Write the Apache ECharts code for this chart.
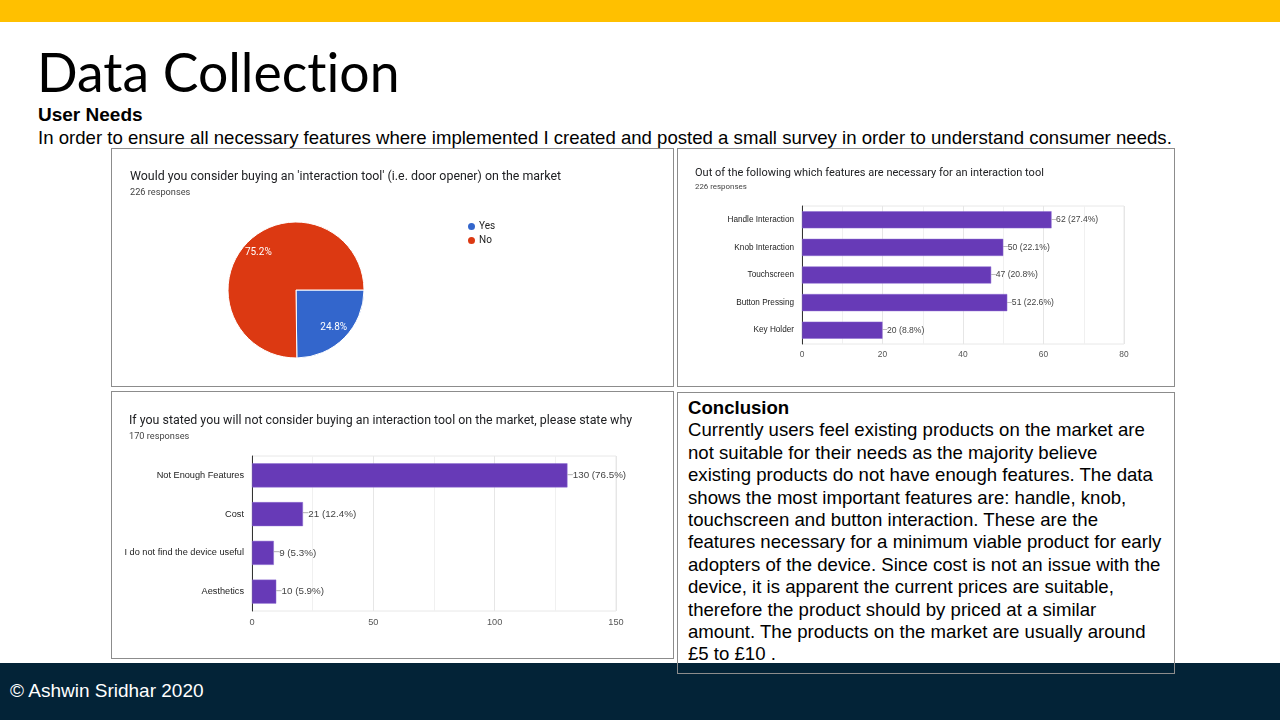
<!DOCTYPE html>
<html>
<head>
<meta charset="utf-8">
<title>Data Collection</title>
<script src="https://cdn.jsdelivr.net/npm/echarts@6/dist/echarts.min.js"></script>
<style>
  html, body {
    margin: 0;
    padding: 0;
    width: 1280px;
    height: 720px;
    overflow: hidden;
    background: #fff;
    position: relative;
    font-family: 'Liberation Sans', Arial, sans-serif;
  }
  .top-bar {
    position: absolute; left: 0; top: 0; width: 1280px; height: 22px;
    background: #ffc000;
  }
  .slide-title {
    position: absolute; left: 37px; top: 41px;
    font-family: Lato, 'Open Sans', sans-serif;
    font-variant-ligatures: none;
    font-size: 53.5px; line-height: 60px; color: #000;
    white-space: nowrap;
  }
  .sub-head {
    position: absolute; left: 38px; top: 104px;
    font-weight: bold; font-size: 19px; line-height: 22px; color: #000;
  }
  .intro {
    position: absolute; left: 38px; top: 127px;
    font-size: 18.6px; line-height: 22px; color: #000; white-space: nowrap;
  }
  .panel {
    position: absolute; border: 1px solid #8c8c8c; background: #fff;
    box-sizing: border-box;
  }
  .chart { position: absolute; }
  .conclusion {
    position: absolute; left: 677px; top: 392px; width: 498px; height: 282px;
    border: 1px solid #8c8c8c; box-sizing: border-box; z-index: 3;
  }
  .conclusion-text {
    position: absolute; left: 10px; top: 4px;
    font-size: 18.6px; line-height: 22.4px; color: #000; white-space: nowrap;
  }
  .footer {
    position: absolute; left: 0; top: 663px; width: 1280px; height: 57px;
    background: #032337; z-index: 2;
  }
  .footer span {
    position: absolute; left: 10px; top: 17px;
    font-size: 19px; line-height: 22px; color: #fff;
  }
</style>
</head>
<body>
<div class="top-bar"></div>
<div class="slide-title">Data Collection</div>
<div class="sub-head">User Needs</div>
<div class="intro">In order to ensure all necessary features where implemented I created and posted a small survey in order to understand consumer needs.</div>

<div class="panel" style="left:111px; top:148px; width:563px; height:239px;"></div>
<div class="panel" style="left:677px; top:148px; width:498px; height:239px;"></div>
<div class="panel" style="left:111px; top:391px; width:563px; height:268px;"></div>

<div id="pieChart" class="chart" style="left:112px; top:149px; width:561px; height:237px;"></div>
<div id="featureChart" class="chart" style="left:678px; top:149px; width:496px; height:237px;"></div>
<div id="reasonChart" class="chart" style="left:112px; top:392px; width:561px; height:266px;"></div>

<div class="conclusion">
  <div class="conclusion-text"><b>Conclusion</b><br>Currently users feel existing products on the market are<br>not suitable for their needs as the majority believe<br>existing products do not have enough features. The data<br>shows the most important features are: handle, knob,<br>touchscreen and button interaction. These are the<br>features necessary for a minimum viable product for early<br>adopters of the device. Since cost is not an issue with the<br>device, it is apparent the current prices are suitable,<br>therefore the product should by priced at a similar<br>amount. The products on the market are usually around<br>£5 to £10 .</div>
</div>

<div class="footer"><span>© Ashwin Sridhar 2020</span></div>

<script>
// 问卷 1：是否考虑购买
const buyTitle = "Would you consider buying an 'interaction tool' (i.e. door opener) on the market"
const buyResponses = 226
const buyNames = ['Yes', 'No']
const buyValues = [24.8, 75.2]
const buyColors = ['#3366cc', '#dc3912']

// 问卷 2：必要功能
const featureTitle = 'Out of the following which features are necessary for an interaction tool'
const featureResponses = 226
const featureNames = ['Handle Interaction', 'Knob Interaction', 'Touchscreen', 'Button Pressing', 'Key Holder']
const featureValues = [62, 50, 47, 51, 20]
const featureTicks = [0, 20, 40, 60, 80]

// 问卷 3：不购买的原因
const reasonTitle = 'If you stated you will not consider buying an interaction tool on the market, please state why'
const reasonResponses = 170
const reasonNames = ['Not Enough Features', 'Cost', 'I do not find the device useful', 'Aesthetics']
const reasonValues = [130, 21, 9, 10]
const reasonTicks = [0, 50, 100, 150]

const barColor = '#673ab7'
const chartFont = 'Roboto, Arial, sans-serif'
const axisFont = "'Liberation Sans', Arial, sans-serif"

const titleOf = (text, responses, left, top, size, subSize, gap) => ({
  text,
  subtext: responses + ' responses',
  left,
  top,
  padding: 0,
  itemGap: gap,
  textStyle: { fontFamily: chartFont, fontSize: size, fontWeight: 'normal', color: '#202124' },
  subtextStyle: { fontFamily: chartFont, fontSize: subSize, color: '#444' }
})

/**
 * 饼图
 */
const pieChart = echarts.init(document.getElementById('pieChart'))
const pieData = buyNames.map((name, i) => ({ name, value: buyValues[i], itemStyle: { color: buyColors[i] } }))
pieChart.setOption({
  animation: false,
  title: titleOf(buyTitle, buyResponses, 18, 22, 12.4, 9.2, 5),
  legend: {
    orient: 'vertical',
    left: 349,
    top: 67,
    icon: 'circle',
    itemWidth: 9,
    itemHeight: 9,
    itemGap: 3,
    textStyle: { fontFamily: chartFont, fontSize: 10, color: '#222', padding: [0, 0, 0, -2] },
    data: buyNames.map((name, i) => ({ name, itemStyle: { color: buyColors[i] } }))
  },
  series: [
    {
      type: 'pie',
      center: [184, 141],
      radius: [0, 68],
      startAngle: 0,
      clockwise: true,
      silent: true,
      label: { show: false },
      labelLine: { show: false },
      itemStyle: { borderColor: '#fff', borderWidth: 1 },
      data: pieData
    },
    {
      // 只用于放置标签（谷歌图表标签约在 0.72 半径处）
      type: 'pie',
      center: [184, 141],
      radius: [32, 68],
      startAngle: 0,
      clockwise: true,
      silent: true,
      itemStyle: { color: 'rgba(0,0,0,0)' },
      label: {
        show: true,
        position: 'inside',
        formatter: p => p.value.toFixed(1) + '%',
        fontFamily: chartFont,
        fontSize: 10,
        color: '#fff'
      },
      labelLine: { show: false },
      data: buyNames.map((name, i) => ({ name, value: buyValues[i] }))
    }
  ]
})

/**
 * 横向条形图
 */
const barOption = ({ title, responses, names, values, ticks, grid, titleTop, fonts }) => {
  const step = ticks[1] - ticks[0]
  return {
    animation: false,
    title: titleOf(title, responses, 17, titleTop, fonts.title, fonts.sub, fonts.gap),
    grid: { ...grid, show: true, borderColor: '#e8e8e8', borderWidth: 1 },
    xAxis: {
      type: 'value',
      min: ticks[0],
      max: ticks[ticks.length - 1],
      interval: step,
      axisLine: { show: false },
      axisTick: { show: false },
      axisLabel: { fontFamily: axisFont, fontSize: fonts.axis, color: '#555', margin: 7 },
      splitLine: { lineStyle: { color: '#e6e6e6' } },
      minorTick: { show: false, splitNumber: 2 },
      minorSplitLine: { show: true, lineStyle: { color: '#f0f0f0' } }
    },
    yAxis: {
      type: 'category',
      inverse: true,
      data: names,
      axisLine: { show: true, lineStyle: { color: '#333', width: 1 } },
      axisTick: { show: false },
      axisLabel: { fontFamily: axisFont, fontSize: fonts.cat, color: '#222', margin: 8 }
    },
    series: [{
      type: 'bar',
      data: values,
      barCategoryGap: '38%',
      silent: true,
      itemStyle: { color: barColor, borderColor: '#8a6ad0', borderWidth: 0.5 },
      label: {
        show: true,
        position: 'right',
        distance: 0,
        formatter: p => '{l|─}{v|' + p.value + ' (' + (p.value / responses * 100).toFixed(1) + '%)}',
        rich: {
          l: { fontFamily: 'DejaVu Sans', fontSize: fonts.value - 1, color: '#999' },
          v: { fontFamily: axisFont, fontSize: fonts.value, color: '#444' }
        }
      }
    }]
  }
}

const featureChart = echarts.init(document.getElementById('featureChart'))
featureChart.setOption(barOption({
  title: featureTitle,
  responses: featureResponses,
  names: featureNames,
  values: featureValues,
  ticks: featureTicks,
  grid: { left: 124, right: 50, top: 57, bottom: 42 },
  titleTop: 19,
  fonts: { title: 11, sub: 7.9, gap: 4, axis: 8.4, cat: 8.2, value: 8.6 }
}))

const reasonChart = echarts.init(document.getElementById('reasonChart'))
reasonChart.setOption(barOption({
  title: reasonTitle,
  responses: reasonResponses,
  names: reasonNames,
  values: reasonValues,
  ticks: reasonTicks,
  grid: { left: 140, right: 57, top: 64, bottom: 47 },
  titleTop: 23,
  fonts: { title: 12.4, sub: 9.2, gap: 5, axis: 9.2, cat: 9.2, value: 9.8 }
}))
</script>
</body>
</html>
